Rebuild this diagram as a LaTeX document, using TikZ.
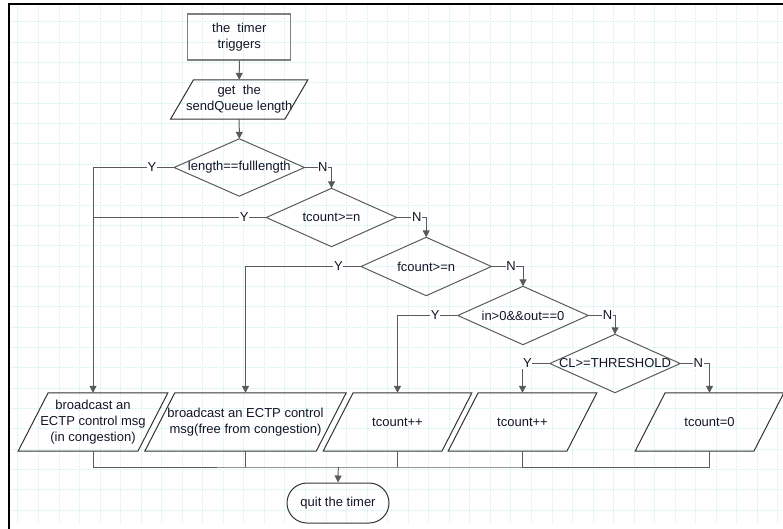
\documentclass[tikz,border=0pt]{standalone}
\usepackage{fontspec}
\setmainfont{Liberation Sans}
\usetikzlibrary{calc,arrows.meta}
\definecolor{gridc}{RGB}{212,244,244}
\definecolor{linec}{RGB}{90,90,90}
\definecolor{txtc}{RGB}{20,20,40}
\definecolor{boxc}{RGB}{128,128,128}
\tikzset{
  every node/.style={font=\fontsize{13}{16}\selectfont, text=txtc},
  plain/.style={draw=none, inner sep=0pt, align=center},
  startbox/.style={draw=boxc, line width=1.2pt, minimum width=103, minimum height=46, inner sep=0pt, align=center},
  termbox/.style={draw=black!80, line width=1pt, rounded corners=20pt, minimum width=102, minimum height=40, inner sep=0pt},
  shapeline/.style={draw=black!80, line width=1pt},
  dialine/.style={draw=linec, line width=1pt},
  conn/.style={draw=linec, line width=1pt},
  arr/.style={conn, -{Triangle[length=7pt,width=7pt]}},
  lab/.style={fill=white, inner sep=0.6pt}
}
\begin{document}
\begin{tikzpicture}[x=1pt,y=-1pt]
\useasboundingbox (0,0) rectangle (783,529);
% grid
\begin{scope}
\clip (10,5) rectangle (783,522);
\foreach \i in {0,...,38} \draw[gridc, densely dotted, line width=0.6pt] ({17.75+20.54*\i},5) -- ({17.75+20.54*\i},522);
\foreach \j in {0,...,26} \draw[gridc, densely dotted, line width=0.6pt] (10,{1.35+20.35*\j}) -- (783,{1.35+20.35*\j});
\end{scope}
% frame
\draw[line width=2pt] (9,529) -- (9,4.2) -- (783,4.2);

% nodes
\node[startbox] (s) at (239.3,37) {the\ \ timer\\triggers};
\node[plain, minimum width=137, minimum height=39] (g) at (239.2,99.5) {get\ \ the\\sendQueue length};
\node[plain, minimum width=130, minimum height=57] (d1) at (239.3,167.5) {length==fulllength};
\node[plain, minimum width=130, minimum height=58] (d2) at (331.5,217.5) {tcount>=n};
\node[plain, minimum width=130, minimum height=58] (d3) at (426.2,266.5) {fcount>=n};
\node[plain, minimum width=130, minimum height=58] (d4) at (523,315.5) {in>0\&\&out==0};
\node[plain, minimum width=130, minimum height=58] (d5) at (615,363.5) {CL>=THRESHOLD};
\node[plain, minimum width=149.4, minimum height=58] (p1) at (93,422) {broadcast an\\ECTP control msg\\(in congestion)};
\node[plain, minimum width=201, minimum height=58] (p2) at (245.5,422) {broadcast an ECTP control\\msg(free from congestion)};
\node[plain, minimum width=148.4, minimum height=58] (p3) at (397.5,422) {tcount++};
\node[plain, minimum width=148.4, minimum height=58] (p4) at (522.5,422) {tcount++};
\node[plain, minimum width=148.4, minimum height=58] (p5) at (709.5,422) {tcount=0};
\node[termbox] (t) at (338,503) {quit the timer};

% shapes
\draw[shapeline] ($(g.north west)+(23,0)$) -- (g.north east) -- ($(g.south east)+(-23,0)$) -- (g.south west) -- cycle;
\foreach \n in {d1,d2,d3,d4,d5}
  \draw[dialine] (\n.north) -- (\n.east) -- (\n.south) -- (\n.west) -- cycle;
\foreach \n in {p1,p2,p3,p4,p5}
  \draw[shapeline] ($(\n.north west)+(30,0)$) -- (\n.north east) -- ($(\n.south east)+(-30,0)$) -- (\n.south west) -- cycle;

% connectors
\draw[arr] (s.south) -- (g.north);
\draw[arr] (g.south) -- (d1.north);
\draw[arr] (d1.east) -| node[lab, pos=0.34] {N} (d2.north);
\draw[arr] (d2.east) -| node[lab, pos=0.34] {N} (d3.north);
\draw[arr] (d3.east) -| node[lab, pos=0.31] {N} (d4.north);
\draw[arr] (d4.east) -| node[lab, pos=0.36] {N} (d5.north);
\draw[arr] (d5.east) -| node[lab, pos=0.31] {N} (p5.north);
\draw[arr] (d1.west) -| node[lab, pos=0.137] {Y} (p1.north);
\draw[conn] (d2.west) -- node[lab, pos=0.127] {Y} (d2.west -| p1.north);
\draw[arr] (d3.west) -| node[lab, pos=0.098] {Y} (p2.north);
\draw[arr] (d4.west) -| node[lab, pos=0.187] {Y} (p3.north);
\draw[arr] (d5.west) -| node[lab, pos=0.41] {Y} (p4.north);

\coordinate (m) at (338.3,467);
\draw[conn] (p1.south) |- (m) -| (p5.south);
\foreach \n in {p2,p3,p4} \draw[conn] (\n.south) -- (\n.south |- m);
\draw[arr] (m) -- (t.north);
\end{tikzpicture}
\end{document}
